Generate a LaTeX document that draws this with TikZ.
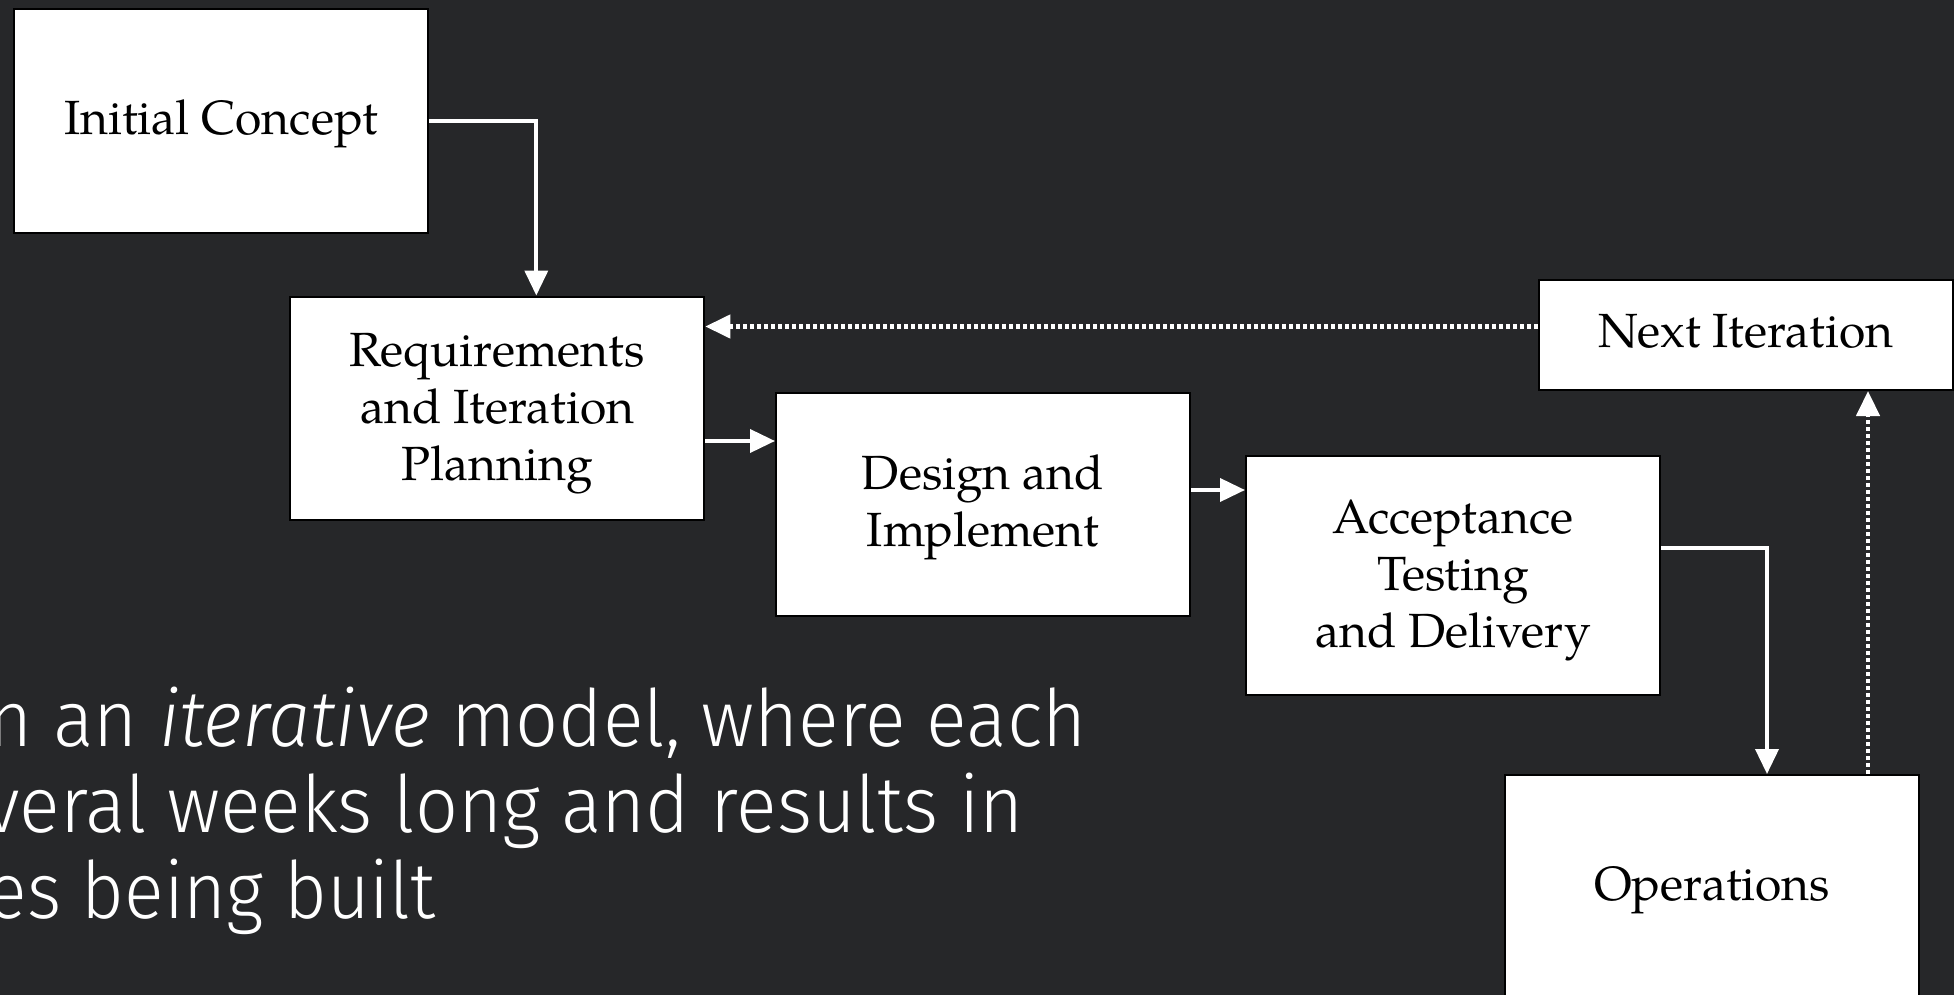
\documentclass[tikz,border=0pt]{standalone}
\usepackage{fontspec}
\usepackage{graphicx}
\setmainfont{TeX Gyre Pagella}
\newfontfamily\libsans{Liberation Sans}
\newfontfamily\slidefont{Fira Sans Light}[ItalicFont={Fira Sans Light Italic}]
\newlength\slidew
\newcommand\slideline[1]{\settowidth{\slidew}{\libsans #1}\resizebox{\slidew}{1.04\height}{\slidefont #1}}
\usetikzlibrary{arrows.meta,calc}
\definecolor{slidebg}{HTML}{262729}
\begin{document}
\begin{tikzpicture}[x=0.5pt,y=-0.5pt,
  box/.style={draw=black,line width=1pt,fill=white,text=black,minimum width=207pt,inner sep=0pt,align=center,font=\fontsize{24}{28.5}\selectfont},
  arr/.style={draw=white,line width=1.9pt,-{Triangle[length=12.5pt,width=11.5pt]}},
  dotarr/.style={draw=white,line width=2.2pt,dash pattern=on 1.9pt off 1.6pt,-{Triangle[length=12.5pt,width=11.5pt]}},
  slide/.style={text=white,inner sep=0pt,anchor=base east,font=\fontsize{38}{43}\selectfont}]
\useasboundingbox (0,0) rectangle (1954,995);
\clip (0,0) rectangle (1954,995);
\fill[slidebg] (0,0) rectangle (1954,995);

\node[box,minimum height=112pt] (ic) at (221,121) {\rule{0pt}{20pt}Initial Concept};
\node[box,minimum height=111.5pt] (req) at (497.3,408) {\rule{0pt}{22pt}Requirements\\and Iteration\\Planning};
\node[box,minimum height=111.5pt] (des) at (983,504) {\rule{0pt}{20.5pt}Design and\\Implement};
\node[box,minimum height=119.5pt] (acc) at (1453,575.8) {\rule{0pt}{21.5pt}Acceptance\\Testing\\and Delivery};
\node[box,minimum height=55pt] (next) at (1746,335) {\rule[-3.7pt]{0pt}{3.7pt}Next Iteration};
\node[box,minimum height=111pt] (ops) at (1712,886) {\rule{0pt}{21pt}Operations};

\draw[arr] (ic.east) -| ([xshift=19.5pt]req.north);
\draw[arr] ([yshift=-16.5pt]req.east) -- ([yshift=-16.5pt]req.east -| des.west);
\draw[arr] ([yshift=7pt]des.east) -- ([yshift=7pt]des.east -| acc.west);
\draw[arr] ([yshift=14pt]acc.east) -| ([xshift=27.5pt]ops.north);
\draw[dotarr] ([xshift=78pt]ops.north) -- ([xshift=78pt]ops.north |- next.south);
\draw[dotarr] ([yshift=4.25pt]next.west) -- ([yshift=4.25pt]next.west -| req.east);

\node[slide] (l1) at (1087,746) {\slideline{n an \textit{iterative} model, where each}};
\node[slide] (l2) at (1024,832) {\slideline{veral weeks long and results in}};
\node[slide] (l3) at (436,918) {\slideline{es being built}};
\end{tikzpicture}
\end{document}
